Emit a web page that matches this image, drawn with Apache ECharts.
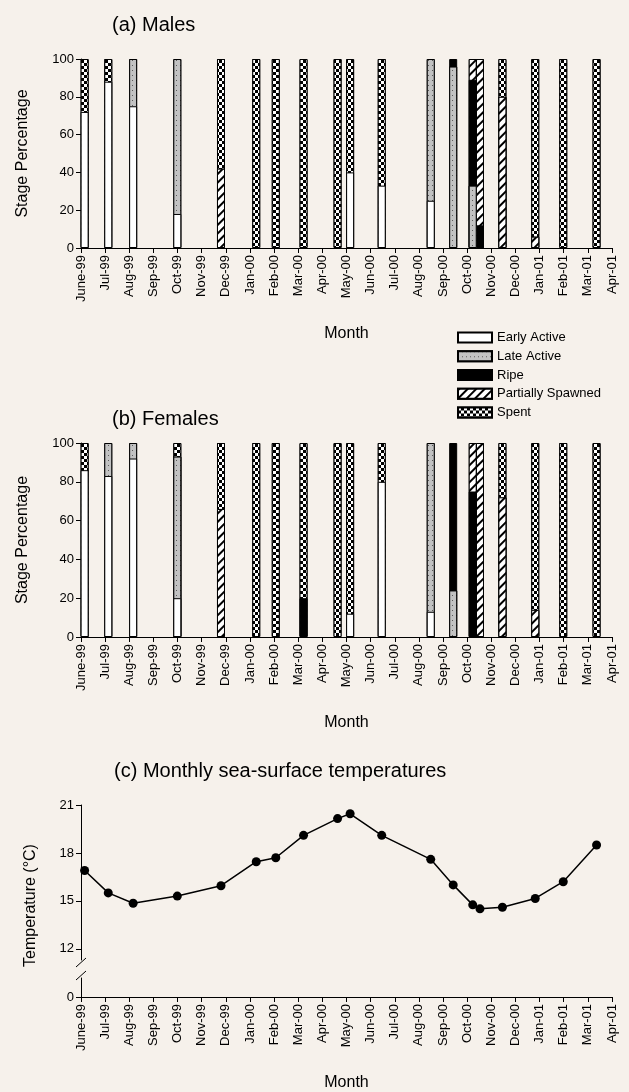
<!DOCTYPE html>
<html>
<head>
<meta charset="utf-8">
<script src="https://cdn.jsdelivr.net/npm/echarts@6/dist/echarts.min.js"></script>
<style>
  html, body { margin: 0; padding: 0; background: #f6f1eb; }
  #chart { width: 629px; height: 1092px; }
</style>
</head>
<body>
<div id="chart"></div>
<script>
// Month tick labels (one per month, June 1999 to April 2001)
const monthLabels = ['June-99','Jul-99','Aug-99','Sep-99','Oct-99','Nov-99','Dec-99',
  'Jan-00','Feb-00','Mar-00','Apr-00','May-00','Jun-00','Jul-00','Aug-00','Sep-00',
  'Oct-00','Nov-00','Dec-00','Jan-01','Feb-01','Mar-01','Apr-01'];

// Sampling dates, in months elapsed since the start of June 1999
const sampleMonth = [0.15, 1.13, 2.16, 3.99, 5.8, 7.26, 8.07, 9.22, 10.63, 11.15,
  12.46, 14.49, 15.42, 16.23, 16.53, 17.46, 18.82, 19.98, 21.36];

const stageNames = ['Early Active', 'Late Active', 'Ripe', 'Partially Spawned', 'Spent'];

// Males: percentage of each gonad stage per sample
const maleEarly   = [72, 88, 75, 18, 0, 0, 0, 0, 0, 40, 33, 25, 0, 0, 0, 0, 0, 0, 0];
const maleLate    = [0, 0, 25, 82, 0, 0, 0, 0, 0, 0, 0, 75, 96, 33, 0, 0, 0, 0, 0];
const maleRipe    = [0, 0, 0, 0, 0, 0, 0, 0, 0, 0, 0, 0, 4, 56, 12, 0, 0, 0, 0];
const malePartial = [0, 0, 0, 0, 42, 0, 0, 0, 0, 0, 0, 0, 0, 11, 88, 80, 6, 0, 0];
const maleSpent   = [28, 12, 0, 0, 58, 100, 100, 100, 100, 60, 67, 0, 0, 0, 0, 20, 94, 100, 100];

// Females: percentage of each gonad stage per sample
const femaleEarly   = [86, 83, 92, 20, 0, 0, 0, 0, 0, 12, 80, 13, 0, 0, 0, 0, 0, 0, 0];
const femaleLate    = [0, 17, 8, 73, 0, 0, 0, 0, 0, 0, 0, 87, 24, 0, 0, 0, 0, 0, 0];
const femaleRipe    = [0, 0, 0, 0, 0, 0, 0, 20, 0, 0, 0, 0, 76, 75, 0, 0, 0, 0, 0];
const femalePartial = [0, 0, 0, 0, 66, 0, 0, 0, 0, 0, 0, 0, 0, 25, 100, 72, 14, 0, 0];
const femaleSpent   = [14, 0, 0, 7, 34, 100, 100, 80, 100, 88, 20, 0, 0, 0, 0, 28, 86, 100, 100];

// Monthly sea-surface temperature (°C) on the same sampling dates
const temperature = [16.9, 15.5, 14.85, 15.3, 15.95, 17.45, 17.7, 19.1, 20.15, 20.45,
  19.1, 17.6, 16.0, 14.75, 14.5, 14.6, 15.15, 16.2, 18.5];

const pctTicks = [0, 20, 40, 60, 80, 100];
const tempTicksUpper = [12, 15, 18, 21];
const tempTicksLower = [0];

const FONT = 'Liberation Sans, Arial, Helvetica, sans-serif';
const INK = '#000';
const BG = '#f6f1eb';

// Fill styles for the five stages
const stageStyles = [
  { color: '#ffffff', borderColor: INK, borderWidth: 1 },
  { color: '#c2c2c2', borderColor: INK, borderWidth: 1,
    decal: { symbol: 'rect', symbolSize: 1, dashArrayX: [1, 3], dashArrayY: [1, 4], color: '#5a5a5a', backgroundColor: '#c2c2c2' } },
  { color: '#000000', borderColor: INK, borderWidth: 1 },
  { color: '#ffffff', borderColor: INK, borderWidth: 1,
    decal: { symbol: 'rect', symbolSize: 1, dashArrayX: [1, 0], dashArrayY: [1.6, 3.4], rotation: -Math.PI / 4, color: '#000', backgroundColor: '#fff' } },
  { color: '#ffffff', borderColor: INK, borderWidth: 1,
    decal: { symbol: 'rect', symbolSize: 1, dashArrayX: [[3, 3], [0, 3, 3, 0]], dashArrayY: [3, 0], color: '#000', backgroundColor: '#fff' } }
];

const panels = [
  [maleEarly, maleLate, maleRipe, malePartial, maleSpent],
  [femaleEarly, femaleLate, femaleRipe, femalePartial, femaleSpent]
];

const GRID_LEFT = 81, GRID_RIGHT = 17;

function monthAxis(gridIndex, showLabels) {
  return {
    type: 'value', gridIndex, min: 0, max: 22, interval: 1,
    show: showLabels,
    axisLine: { lineStyle: { color: INK, width: 1 } },
    axisTick: { length: 5, lineStyle: { color: INK } },
    splitLine: { show: false },
    axisLabel: {
      rotate: 90, margin: 7, color: INK, fontSize: 13, fontFamily: FONT,
      formatter: v => monthLabels[v] || ''
    },
    name: showLabels ? 'Month' : '', nameLocation: 'middle', nameGap: 78,
    nameTextStyle: { color: INK, fontSize: 16, fontFamily: FONT }
  };
}

function pctAxis(gridIndex) {
  return {
    type: 'value', gridIndex, min: 0, max: 100, interval: 20,
    axisLine: { show: true, lineStyle: { color: INK, width: 1 } },
    axisTick: { show: true, length: 5, lineStyle: { color: INK } },
    splitLine: { show: false },
    axisLabel: { color: INK, fontSize: 13, fontFamily: FONT, margin: 7,
      formatter: v => pctTicks.includes(v) ? String(v) : '' },
    name: 'Stage Percentage', nameLocation: 'middle', nameGap: 50,
    nameTextStyle: { color: INK, fontSize: 16, fontFamily: FONT }
  };
}

// Stacked columns: each stage is drawn from 0 up to its cumulative total,
// topmost stage first, so the lower stages overlay the upper ones.
const series = [];
panels.forEach((stages, p) => {
  const cumulative = stages.map((vals, s) =>
    vals.map((_, i) => stages.slice(0, s + 1).reduce((acc, arr) => acc + arr[i], 0)));
  for (let s = stages.length - 1; s >= 0; s--) {
    series.push({
      type: 'bar', name: stageNames[s], xAxisIndex: p, yAxisIndex: p,
      barWidth: 8, barGap: '-100%',
      itemStyle: stageStyles[s],
      emphasis: { disabled: true },
      data: sampleMonth.map((m, i) => [m, stages[s][i] > 0 ? cumulative[s][i] : '-'])
    });
  }
});

series.push({
  type: 'line', name: 'SST', xAxisIndex: 2, yAxisIndex: 2,
  symbol: 'circle', symbolSize: 9,
  lineStyle: { color: INK, width: 1.5 },
  itemStyle: { color: INK },
  data: sampleMonth.map((m, i) => [m, temperature[i]])
});

// Break marks on the temperature axis (between 12 and 0)
const breakMarks = [
  { type: 'line', shape: { x1: 76, y1: 967, x2: 86, y2: 958 }, style: { stroke: INK, lineWidth: 1 } },
  { type: 'line', shape: { x1: 76, y1: 980, x2: 86, y2: 971 }, style: { stroke: INK, lineWidth: 1 } }
];

const chart = echarts.init(document.getElementById('chart'), null, { renderer: 'canvas' });
chart.setOption({
  animation: false,
  backgroundColor: BG,
  textStyle: { fontFamily: FONT, color: INK },
  title: [
    { text: '(a) Males', left: 107, top: 10, textStyle: { fontSize: 20, fontWeight: 'normal', color: INK, fontFamily: FONT } },
    { text: '(b) Females', left: 107, top: 404, textStyle: { fontSize: 20, fontWeight: 'normal', color: INK, fontFamily: FONT } },
    { text: '(c) Monthly sea-surface temperatures', left: 109, top: 756, textStyle: { fontSize: 20, fontWeight: 'normal', color: INK, fontFamily: FONT } }
  ],
  legend: {
    orient: 'vertical', left: 452, top: 326,
    itemWidth: 34, itemHeight: 10, itemGap: 5.75, icon: 'rect',
    selectedMode: false,
    data: stageNames,
    textStyle: { fontSize: 13, color: INK, fontFamily: FONT }
  },
  grid: [
    { left: GRID_LEFT, right: GRID_RIGHT, top: 59, height: 189 },
    { left: GRID_LEFT, right: GRID_RIGHT, top: 443, height: 194 },
    { left: GRID_LEFT, right: GRID_RIGHT, top: 805, height: 155 },
    { left: GRID_LEFT, right: GRID_RIGHT, top: 978, height: 20.7 }
  ],
  xAxis: [monthAxis(0, true), monthAxis(1, true), monthAxis(2, false), monthAxis(3, true)],
  yAxis: [
    pctAxis(0), pctAxis(1),
    {
      type: 'value', gridIndex: 2, min: 11.3, max: 21,
      axisLine: { show: true, lineStyle: { color: INK, width: 1 } },
      axisTick: { show: true, length: 5, lineStyle: { color: INK }, customValues: tempTicksUpper },
      splitLine: { show: false },
      axisLabel: { color: INK, fontSize: 13, fontFamily: FONT, margin: 7, customValues: tempTicksUpper },
      name: 'Temperature (°C)', nameLocation: 'middle', nameGap: 42,
      nameTextStyle: { color: INK, fontSize: 16, fontFamily: FONT, padding: [0, 46, 0, 0] }
    },
    {
      type: 'value', gridIndex: 3, min: 0, max: 1,
      axisLine: { show: true, lineStyle: { color: INK, width: 1 } },
      axisTick: { show: true, length: 5, lineStyle: { color: INK }, customValues: tempTicksLower },
      splitLine: { show: false },
      axisLabel: { color: INK, fontSize: 13, fontFamily: FONT, margin: 7, customValues: tempTicksLower }
    }
  ],
  graphic: breakMarks,
  series
});
</script>
</body>
</html>
